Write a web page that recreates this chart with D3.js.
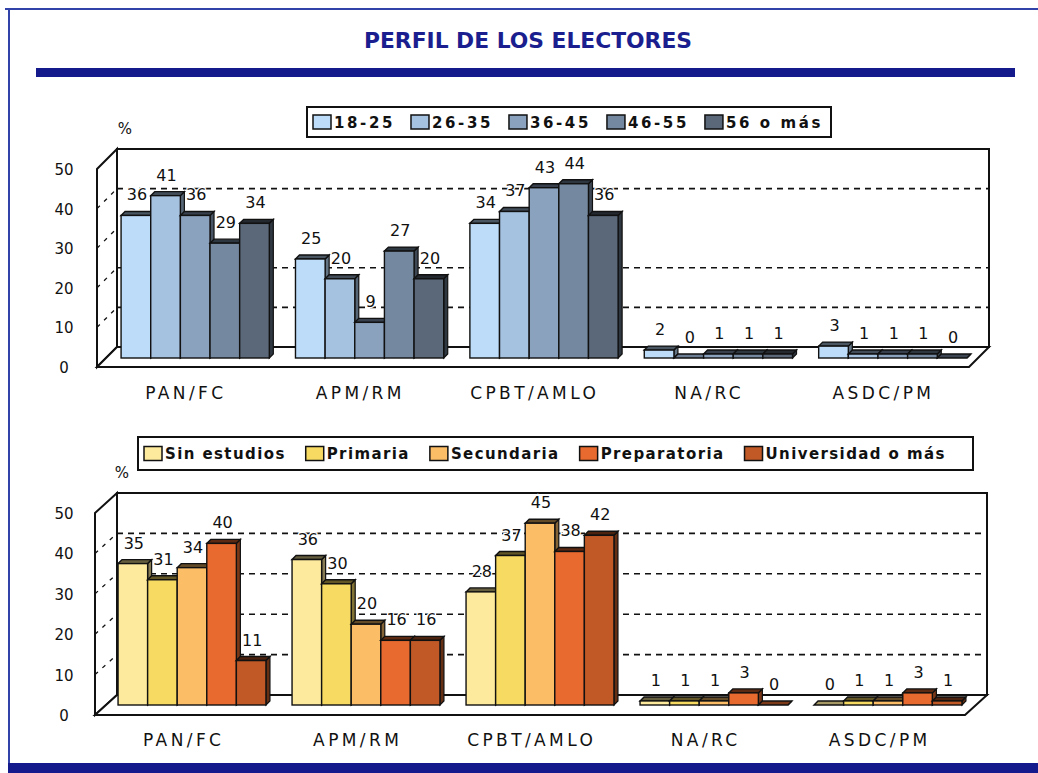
<!DOCTYPE html>
<html>
<head>
<meta charset="utf-8">
<script src="https://cdn.jsdelivr.net/npm/d3@7"></script>
<style>
  html, body { margin: 0; padding: 0; background: #fff; }
  svg { display: block; }
</style>
</head>
<body>
<svg id="chart" width="1038" height="773"></svg>
<script>
// ---------------- DATA ----------------
const title = "PERFIL DE LOS ELECTORES";
const categories = ["PAN/FC", "APM/RM", "CPBT/AMLO", "NA/RC", "ASDC/PM"];

const ageSeries = ["18-25", "26-35", "36-45", "46-55", "56 o más"];
// rows = categories, columns = age series
const ageValues = [
  [36, 41, 36, 29, 34],
  [25, 20, 9, 27, 20],
  [34, 37, 43, 44, 36],
  [2, 0, 1, 1, 1],
  [3, 1, 1, 1, 0]
];

const eduSeries = ["Sin estudios", "Primaria", "Secundaria", "Preparatoria", "Universidad o más"];
const eduValues = [
  [35, 31, 34, 40, 11],
  [36, 30, 20, 16, 16],
  [28, 37, 45, 38, 42],
  [1, 1, 1, 3, 0],
  [0, 1, 1, 3, 1]
];

const yTicks = [0, 10, 20, 30, 40, 50];
const ageGrid = [10, 20, 40];
const eduGrid = [10, 20, 30, 40];
const unitLabel = "%";

// ---------------- STYLE / LAYOUT ----------------
const ageColors = ["#BCDCFA", "#A6C2E1", "#8BA2BF", "#74889F", "#5A687A"];
const eduColors = ["#FEEA9D", "#F7DA62", "#FBBD66", "#E86A2E", "#C05926"];
const navy = "#141A8C";
const fontMain = "'DejaVu Sans', Verdana, sans-serif";

const layouts = [
  {
    series: ageSeries, values: ageValues, colors: ageColors, grid: ageGrid,
    frontX: [97, 969], frontY: [367, 169], wall: [20, -20], bar: [11, -9],
    legendBox: { x: 307, y: 107, w: 524, h: 30 }, legendStart: 313, legendGap: 16, legendSpacing: 2.6,
    pct: { x: 125, y: 134 }, catY: 399
  },
  {
    series: eduSeries, values: eduValues, colors: eduColors, grid: eduGrid,
    frontX: [95, 965], frontY: [715, 513], wall: [22, -20], bar: [10, -10],
    legendBox: { x: 138, y: 437, w: 835, h: 33 }, legendStart: 144, legendGap: 20, legendSpacing: 1.4,
    pct: { x: 122, y: 478 }, catY: 746
  }
];

const svg = d3.select("#chart");

// ---------------- FRAME & TITLE ----------------
svg.append("line").attr("x1", 5).attr("x2", 1038).attr("y1", 9).attr("y2", 9)
  .attr("stroke", "#3142A8").attr("stroke-width", 2);
svg.append("line").attr("x1", 9).attr("x2", 9).attr("y1", 9).attr("y2", 764)
  .attr("stroke", "#3142A8").attr("stroke-width", 2);
svg.append("rect").attr("x", 8).attr("y", 763).attr("width", 1030).attr("height", 10).attr("fill", navy);

svg.append("text")
  .attr("x", 528).attr("y", 48)
  .attr("text-anchor", "middle")
  .attr("font-family", "'DejaVu Sans Condensed', 'Liberation Sans Narrow', sans-serif")
  .attr("font-weight", "bold")
  .attr("font-size", 22)
  .attr("textLength", 328)
  .attr("lengthAdjust", "spacingAndGlyphs")
  .attr("fill", "#1A1E8E")
  .text(title);

svg.append("rect").attr("x", 36).attr("y", 68).attr("width", 979).attr("height", 9).attr("fill", navy);

// ---------------- CHARTS ----------------
layouts.forEach(L => {
  const g = svg.append("g");
  const y = d3.scaleLinear().domain([0, 50]).range(L.frontY);
  const xCat = d3.scaleBand().domain(categories).range(L.frontX)
    .paddingInner(0.15).paddingOuter(0.075);
  const xSer = d3.scaleBand().domain(L.series).range([0, xCat.bandwidth()]);
  const color = d3.scaleOrdinal().domain(L.series).range(L.colors);

  const [fx0, fx1] = L.frontX;
  const [wdx, wdy] = L.wall;
  const bx0 = fx0 + wdx, bx1 = fx1 + wdx;
  const yBack = v => y(v) + wdy;

  // back wall + side wall + floor
  g.append("rect").attr("x", bx0).attr("y", yBack(50))
    .attr("width", bx1 - bx0).attr("height", yBack(0) - yBack(50))
    .attr("fill", "#fff").attr("stroke", "#111").attr("stroke-width", 2);
  g.append("path")
    .attr("d", `M${fx0},${y(50)} L${bx0},${yBack(50)} L${bx0},${yBack(0)} L${fx0},${y(0)} Z`)
    .attr("fill", "#fff").attr("stroke", "#111").attr("stroke-width", 2);
  g.append("path")
    .attr("d", `M${fx0},${y(0)} L${bx0},${yBack(0)} L${bx1},${yBack(0)} L${fx1},${y(0)} Z`)
    .attr("fill", "#fff").attr("stroke", "#111").attr("stroke-width", 2);

  // gridlines on back wall
  g.selectAll(".grid").data(L.grid).join("line")
    .attr("x1", bx0).attr("x2", bx1)
    .attr("y1", d => yBack(d)).attr("y2", d => yBack(d))
    .attr("stroke", "#111").attr("stroke-width", 1.6).attr("stroke-dasharray", "6,5");
  // dashes on side wall
  g.selectAll(".sgrid").data(yTicks.filter(t => t > 0 && t < 50)).join("line")
    .attr("x1", fx0).attr("x2", bx0)
    .attr("y1", d => y(d)).attr("y2", d => yBack(d))
    .attr("stroke", "#111").attr("stroke-width", 1.3).attr("stroke-dasharray", "4,6");

  // y tick labels
  g.selectAll(".ytick").data(yTicks).join("text")
    .attr("x", 64).attr("y", d => y(d) + 6)
    .attr("text-anchor", "middle")
    .attr("font-family", fontMain).attr("font-size", 15).attr("fill", "#111")
    .text(d => d);

  // unit
  g.append("text").attr("x", L.pct.x).attr("y", L.pct.y)
    .attr("text-anchor", "middle")
    .attr("font-family", fontMain).attr("font-size", 15).attr("fill", "#111")
    .text(unitLabel);

  // bars
  const [bdx, bdy] = L.bar;
  const dd = 4;
  const w = xSer.bandwidth();
  const barData = [];
  categories.forEach((c, i) => {
    L.series.forEach((s, j) => {
      barData.push({ cat: c, ser: s, v: L.values[i][j] });
    });
  });
  const bars = g.selectAll(".bar").data(barData).join("g");
  bars.each(function(d) {
    const el = d3.select(this);
    const x = xCat(d.cat) + xSer(d.ser) + bdx;
    const y0 = y(0) + bdy;
    const y1 = y(d.v) + bdy;
    const col = color(d.ser);
    // side face
    el.append("path")
      .attr("d", `M${x + w},${y1} L${x + w + dd},${y1 - dd} L${x + w + dd},${y0 - dd} L${x + w},${y0} Z`)
      .attr("fill", d3.color(col).darker(1.8)).attr("stroke", "#111").attr("stroke-width", 1.2);
    // top face
    el.append("path")
      .attr("d", `M${x},${y1} L${x + dd},${y1 - dd} L${x + w + dd},${y1 - dd} L${x + w},${y1} Z`)
      .attr("fill", d.v > 0 ? d3.color(col).darker(2.6) : d3.color(col).darker(1.2))
      .attr("stroke", "#111").attr("stroke-width", 1.4);
    // front face
    if (d.v > 0) {
      el.append("rect").attr("x", x).attr("y", y1).attr("width", w).attr("height", y0 - y1)
        .attr("fill", col).attr("stroke", "#111").attr("stroke-width", 1.4);
    }
  });

  // value labels
  g.selectAll(".val").data(barData).join("text")
    .attr("x", d => xCat(d.cat) + xSer(d.ser) + bdx + w / 2 + 1)
    .attr("y", d => y(d.v) + bdy - 15)
    .attr("text-anchor", "middle")
    .attr("font-family", fontMain).attr("font-size", 16).attr("fill", "#111")
    .attr("stroke", "#fff").attr("stroke-width", 2.5).attr("paint-order", "stroke")
    .text(d => d.v);

  // category labels
  g.selectAll(".cat").data(categories).join("text")
    .attr("x", d => xCat(d) + xCat.bandwidth() / 2 + 1.7)
    .attr("y", L.catY)
    .attr("text-anchor", "middle")
    .attr("font-family", fontMain).attr("font-size", 17).attr("letter-spacing", 3.4)
    .attr("fill", "#111")
    .text(d => d);

  // legend
  const lb = L.legendBox;
  g.append("rect").attr("x", lb.x).attr("y", lb.y).attr("width", lb.w).attr("height", lb.h)
    .attr("fill", "#fff").attr("stroke", "#111").attr("stroke-width", 2);
  let lx = L.legendStart;
  const cy = lb.y + lb.h / 2;
  L.series.forEach(s => {
    g.append("rect").attr("x", lx).attr("y", cy - 7).attr("width", 18).attr("height", 14)
      .attr("fill", color(s)).attr("stroke", "#111").attr("stroke-width", 1.5);
    const t = g.append("text").attr("x", lx + 21).attr("y", cy + 5.5)
      .attr("font-family", fontMain).attr("font-weight", "bold").attr("font-size", 15)
      .attr("letter-spacing", L.legendSpacing).attr("fill", "#111")
      .text(s);
    lx = lx + 21 + t.node().getComputedTextLength() + L.legendGap;
  });
});
</script>
</body>
</html>
